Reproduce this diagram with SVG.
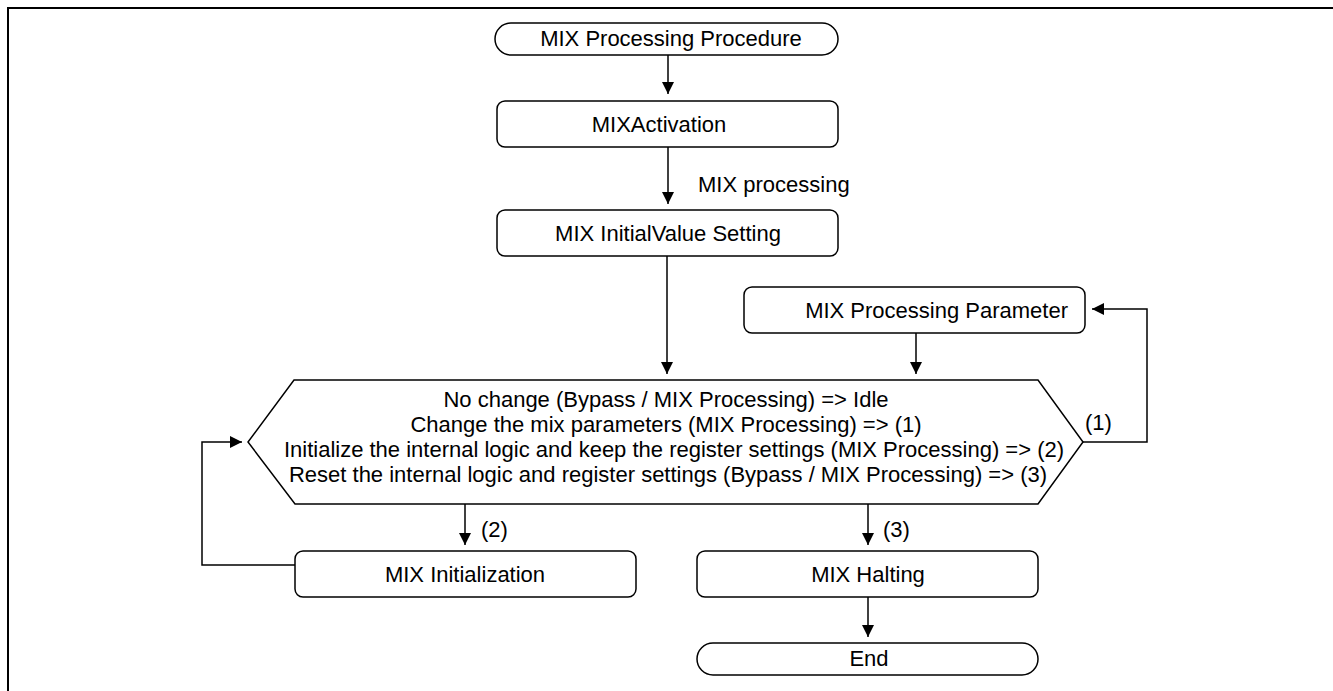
<svg xmlns="http://www.w3.org/2000/svg" width="1333" height="691" viewBox="0 0 1333 691">
<style>
  .shape { fill: #fff; stroke: #000; stroke-width: 1.5; }
  .conn { fill: none; stroke: #000; stroke-width: 1.5; }
  text { font-family: "Liberation Sans", Arial, sans-serif; font-size: 22px; fill: #000; }
  .c { text-anchor: middle; }
</style>
<defs>
  <marker id="arrow" markerUnits="userSpaceOnUse" markerWidth="12" markerHeight="12" refX="12" refY="6" orient="auto">
    <path d="M0,0 L12,6 L0,12 z" fill="#000"/>
  </marker>
</defs>
<rect x="8" y="8" width="1345" height="700" fill="none" stroke="#000" stroke-width="2"/>

<g id="connectors">
  <line class="conn" x1="668" y1="55" x2="668" y2="94" marker-end="url(#arrow)"/>
  <line class="conn" x1="668" y1="147" x2="668" y2="204" marker-end="url(#arrow)"/>
  <line class="conn" x1="667" y1="256" x2="667" y2="374" marker-end="url(#arrow)"/>
  <line class="conn" x1="916" y1="333" x2="916" y2="374" marker-end="url(#arrow)"/>
  <polyline class="conn" points="1083,442 1147,442 1147,309 1092,309" marker-end="url(#arrow)"/>
  <line class="conn" x1="465" y1="504" x2="465" y2="545" marker-end="url(#arrow)"/>
  <line class="conn" x1="868" y1="504" x2="868" y2="545" marker-end="url(#arrow)"/>
  <polyline class="conn" points="295,565 202,565 202,442 242,442" marker-end="url(#arrow)"/>
  <line class="conn" x1="868" y1="597" x2="868" y2="637" marker-end="url(#arrow)"/>
  <text x="698" y="192">MIX processing</text>
  <text x="1085" y="430">(1)</text>
  <text x="481" y="537">(2)</text>
  <text x="883" y="537">(3)</text>
</g>

<g id="start">
  <rect class="shape" x="495" y="23" width="343" height="32" rx="16" ry="16"/>
  <text class="c" x="671" y="46">MIX Processing Procedure</text>
</g>

<g id="activation">
  <rect class="shape" x="497" y="101" width="341" height="46" rx="8" ry="8"/>
  <text class="c" x="659" y="132">MIXActivation</text>
</g>

<g id="initial-value">
  <rect class="shape" x="497" y="210" width="341" height="46" rx="8" ry="8"/>
  <text class="c" x="668" y="241">MIX InitialValue Setting</text>
</g>

<g id="parameter">
  <rect class="shape" x="744" y="287" width="341" height="46" rx="8" ry="8"/>
  <text x="1068" y="318" text-anchor="end">MIX Processing Parameter</text>
</g>

<g id="decision">
  <polygon class="shape" points="294,380 1038,380 1083,442 1038,504 295,504 248,442"/>
  <text class="c" x="666" y="407">No change (Bypass / MIX Processing) =&gt; Idle</text>
  <text class="c" x="666" y="432">Change the mix parameters (MIX Processing) =&gt; (1)</text>
  <text class="c" x="674" y="457">Initialize the internal logic and keep the register settings (MIX Processing) =&gt; (2)</text>
  <text class="c" x="668" y="482">Reset the internal logic and register settings (Bypass / MIX Processing) =&gt; (3)</text>
</g>

<g id="initialization">
  <rect class="shape" x="295" y="551" width="341" height="46" rx="8" ry="8"/>
  <text class="c" x="465" y="582">MIX Initialization</text>
</g>

<g id="halting">
  <rect class="shape" x="697" y="551" width="341" height="46" rx="8" ry="8"/>
  <text class="c" x="868" y="582">MIX Halting</text>
</g>

<g id="end">
  <rect class="shape" x="697" y="643" width="341" height="32" rx="16" ry="16"/>
  <text class="c" x="869" y="666">End</text>
</g>
</svg>
